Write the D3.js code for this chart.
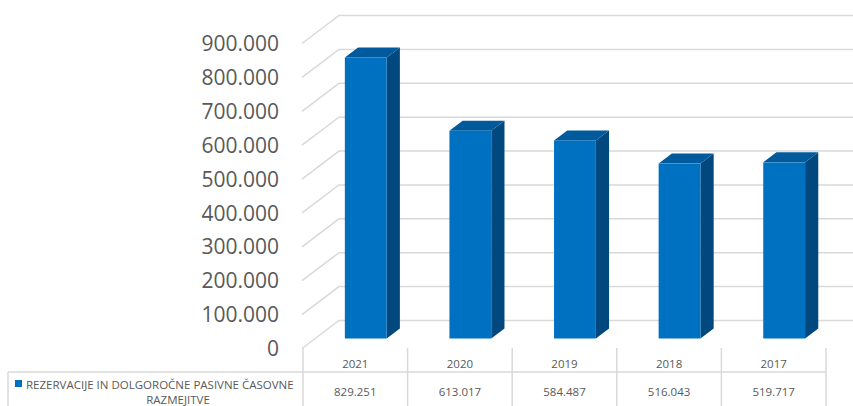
<!DOCTYPE html>
<html>
<head>
<meta charset="utf-8">
<script src="https://cdn.jsdelivr.net/npm/d3@7"></script>
<style>
html,body{margin:0;padding:0;background:#fff;}
svg{display:block;}
text{font-family:"Open Sans",sans-serif;fill:#595959;}
</style>
</head>
<body>
<div id="chart"></div>
<script>
const categories = ["2021", "2020", "2019", "2018", "2017"];
const values = [829251, 613017, 584487, 516043, 519717];
const valueLabels = ["829.251", "613.017", "584.487", "516.043", "519.717"];
const seriesName = ["REZERVACIJE IN DOLGOROČNE PASIVNE ČASOVNE", "RAZMEJITVE"];
const yTicks = [0, 100000, 200000, 300000, 400000, 500000, 600000, 700000, 800000, 900000];
const yTickLabels = ["0", "100.000", "200.000", "300.000", "400.000", "500.000", "600.000", "700.000", "800.000", "900.000"];

const W = 853, H = 406;
const svg = d3.select("#chart").append("svg").attr("width", W).attr("height", H);

// 3D geometry
const depthX = 37, depthY = -28;      // floor depth offset
const barOffY = -10;                  // bar front plane offset from front
const barDX = 13.2, barDY = -10;      // bar depth

const y = d3.scaleLinear().domain([0, 900000]).range([348.5, 43.5]);
const x = d3.scaleBand().domain(categories).range([303, 826]).paddingInner(0).paddingOuter(0);

const gridColor = "#d9d9d9";
const wallLeft = 302;

// gridlines (side wall diagonals + back wall)
const grid = svg.append("g");
yTicks.forEach(v => {
  const yf = y(v);
  grid.append("path")
    .attr("d", `M${wallLeft},${yf}L${wallLeft + depthX},${yf + depthY}L${W},${yf + depthY}`)
    .attr("fill", "none").attr("stroke", gridColor).attr("stroke-width", 1.5);
});

// axis labels
const ax = svg.append("g");
yTicks.forEach((v, i) => {
  ax.append("text")
    .attr("x", 279).attr("y", y(v)).attr("dy", "0.36em")
    .attr("text-anchor", "end").attr("font-size", 21)
    .text(yTickLabels[i]);
});

// bars
const frontCol = "#0070c0", sideCol = "#00487e", topCol = "#005a9c";
const bars = svg.append("g");
categories.forEach((c, i) => {
  const bw = x.bandwidth() * 0.4;
  const x0 = x(c) + x.bandwidth() * 0.4;
  const x1 = x0 + bw;
  const yb = y(0) + barOffY;
  const yt = y(values[i]) + barOffY;
  bars.append("path")
    .attr("d", `M${x1},${yb}L${x1 + barDX},${yb + barDY}L${x1 + barDX},${yt + barDY}L${x1},${yt}Z`)
    .attr("fill", sideCol);
  bars.append("path")
    .attr("d", `M${x0},${yt}L${x0 + barDX},${yt + barDY}L${x1 + barDX},${yt + barDY}L${x1},${yt}Z`)
    .attr("fill", topCol);
  bars.append("rect")
    .attr("x", x0).attr("y", yt).attr("width", bw).attr("height", yb - yt)
    .attr("fill", frontCol);
});

// data table
const tbl = svg.append("g");
const tableLine = "#d9d9d9";
const rowY = 372;
tbl.append("line").attr("x1", 8).attr("x2", 826).attr("y1", rowY).attr("y2", rowY)
  .attr("stroke", tableLine).attr("stroke-width", 1.5);
tbl.append("line").attr("x1", 8).attr("x2", 8).attr("y1", rowY).attr("y2", H)
  .attr("stroke", tableLine).attr("stroke-width", 1.5);
const edges = categories.map(c => x(c)).concat([x(categories[categories.length - 1]) + x.bandwidth()]);
edges.forEach(e => {
  tbl.append("line").attr("x1", e).attr("x2", e).attr("y1", 348).attr("y2", H)
    .attr("stroke", tableLine).attr("stroke-width", 1.5);
});
categories.forEach((c, i) => {
  const cx = x(c) + x.bandwidth() / 2;
  tbl.append("text").attr("x", cx).attr("y", 363.5).attr("dy", "0.36em")
    .attr("text-anchor", "middle").attr("font-size", 11.5).text(c);
  tbl.append("text").attr("x", cx).attr("y", 392).attr("dy", "0.36em")
    .attr("text-anchor", "middle").attr("font-size", 11.5).text(valueLabels[i]);
});
tbl.append("rect").attr("x", 15).attr("y", 380).attr("width", 7).attr("height", 7).attr("fill", frontCol);
tbl.append("text").attr("x", 26).attr("y", 384.5).attr("dy", "0.36em")
  .attr("text-anchor", "start").attr("font-size", 11.5).text(seriesName[0]);
tbl.append("text").attr("x", 178).attr("y", 400).attr("dy", "0.36em")
  .attr("text-anchor", "middle").attr("font-size", 11.5).text(seriesName[1]);
</script>
</body>
</html>
